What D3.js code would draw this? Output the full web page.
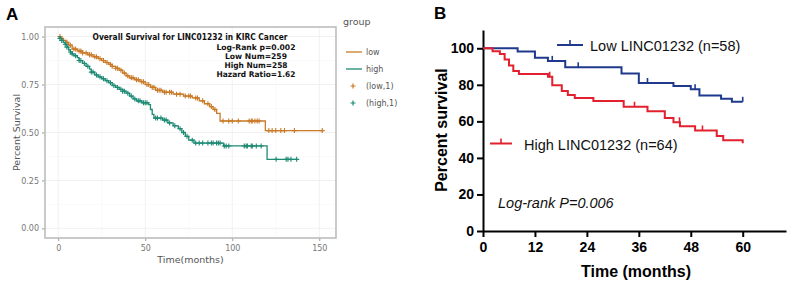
<!DOCTYPE html>
<html>
<head>
<meta charset="utf-8">
<script src="https://cdn.jsdelivr.net/npm/d3@7"></script>
<style>
body { margin: 0; background: #fff; }
svg { display: block; }
</style>
</head>
<body>
<svg id="chart" width="790" height="285"></svg>
<script>
// ---- panel A data (TCGA KIRC) ----
var aLowT = [0, 1.5, 3, 4.5, 6, 8, 11, 14, 17, 20, 23, 25, 27, 29, 31, 33, 35, 37, 39, 41, 44, 47, 50, 53, 56, 60, 66, 72, 77, 81, 84, 87, 89, 91, 93, 119];
var aLowS = [1, 0.99, 0.98, 0.97, 0.955, 0.935, 0.925, 0.915, 0.905, 0.895, 0.885, 0.875, 0.865, 0.855, 0.845, 0.835, 0.825, 0.81, 0.795, 0.785, 0.775, 0.765, 0.75, 0.735, 0.72, 0.71, 0.70, 0.69, 0.68, 0.665, 0.65, 0.635, 0.62, 0.60, 0.56, 0.51];
var aLowEnd = 152;
var aLowCens = [1, 2, 3, 5, 7, 9, 10, 12, 13, 14, 16, 18, 19, 21, 22, 24, 26, 28, 30, 31, 33, 34, 36, 38, 40, 42, 43, 45, 46, 48, 49, 51, 52, 54, 55, 57, 58, 59, 61, 62, 64, 65, 68, 70, 73, 75, 76, 79, 80, 83, 86, 88, 90,
  94.7, 98, 100, 103.5, 109.7, 110.9, 111.5, 113, 114.3, 115.4, 121, 122.9, 125, 127.9, 130, 135.7, 151.7];

var aHighT = [0, 1, 2, 3, 4, 5, 6, 7, 8, 9, 11, 12, 14, 16, 18, 19, 21, 23, 25, 27, 29, 31, 33, 35, 37, 39, 41, 43, 45, 48, 52, 53, 54, 55, 60, 63, 66, 69, 71, 73, 75, 78, 95, 120];
var aHighS = [1, 0.99, 0.98, 0.97, 0.96, 0.945, 0.93, 0.92, 0.91, 0.90, 0.89, 0.875, 0.86, 0.845, 0.83, 0.815, 0.80, 0.79, 0.78, 0.77, 0.76, 0.745, 0.735, 0.725, 0.715, 0.705, 0.69, 0.675, 0.665, 0.655, 0.645, 0.62, 0.595, 0.575, 0.565, 0.55, 0.535, 0.52, 0.50, 0.48, 0.46, 0.445, 0.43, 0.36];
var aHighEnd = 137;
var aHighCens = [1, 2, 4, 5, 7, 8, 10, 12, 13, 15, 17, 19, 20, 22, 24, 26, 28, 30, 32, 34, 36, 37, 38, 40, 42, 44, 46, 47, 49, 50, 51, 56, 57, 59, 61, 62, 64, 67, 70, 72, 74, 77,
  79, 81, 83, 86, 88, 89, 91, 92, 93, 95.4, 96.5, 98, 106.9, 108, 108.7, 110.9, 111.5, 113.8, 116.6, 125.2, 131, 132, 133.7, 137];

var aXTicks = [0, 50, 100, 150];
var aYTicks = [0, 0.25, 0.5, 0.75, 1];
var aTitle = "Overall Survival for LINC01232 in KIRC Cancer";
var aStats = ["Log-Rank p=0.002", "Low Num=259", "High Num=258", "Hazard Ratio=1.62"];
var aLegend = ["low", "high", "(low,1)", "(high,1)"];

// ---- panel B data (own cohort) ----
var bLowT = [0, 8, 12, 15, 19, 32, 36, 44, 48, 50, 55, 57.5];
var bLowS = [100, 98.3, 94.8, 93.1, 89.6, 86.2, 81, 79.3, 77.6, 74.1, 72.4, 70.7];
var bLowEnd = 60;
var bLowCens = [16, 22, 38, 49, 60];

var bHighT = [0, 2.2, 3.9, 5, 6, 7, 8.3, 15, 16, 18.2, 19.6, 21.2, 25.5, 32.5, 38, 42, 44, 45.5, 49, 54, 55.5, 60];
var bHighS = [100, 98.4, 96.9, 93.8, 90.6, 87.5, 85.9, 84.4, 79.7, 76.6, 74.4, 72.8, 71.2, 68, 65.5, 61.8, 59.5, 57.3, 55, 52, 49.7, 48];
var bHighEnd = 60;
var bHighCens = [15.4, 35, 45.4, 50.7];

var bXTicks = [0, 12, 24, 36, 48, 60];
var bYTicks = [0, 20, 40, 60, 80, 100];
var bLegend = ["Low LINC01232 (n=58)", "High LINC01232 (n=64)"];

var colLowA = "#c97a27", colHighA = "#1d8a74";
var colLowB = "#1f3a8c", colHighB = "#e3202d";

var svg = d3.select("#chart");

function stepAt(T, S, t) {
  var i = d3.bisectRight(T, t) - 1;
  return S[Math.max(0, i)];
}
function stepPoints(T, S, end) {
  var pts = T.map(function (t, i) { return [t, S[i]]; });
  pts.push([end, S[S.length - 1]]);
  return pts;
}

// ================= Panel A =================
var A = { l: 45, r: 336, t: 27, b: 238 };
var ax = d3.scaleLinear().domain([-7.6, 159.6]).range([A.l, A.r]);
var ay = d3.scaleLinear().domain([-0.05, 1.05]).range([A.b, A.t]);
var gA = svg.append("g");

// grid
var minorX = [25, 75, 125], minorY = [0.125, 0.375, 0.625, 0.875];
gA.selectAll("line.mnx").data(minorX).enter().append("line")
  .attr("x1", function (d) { return ax(d); }).attr("x2", function (d) { return ax(d); })
  .attr("y1", A.t).attr("y2", A.b).attr("stroke", "#f6f6f6").attr("stroke-width", 0.6);
gA.selectAll("line.mny").data(minorY).enter().append("line")
  .attr("y1", function (d) { return ay(d); }).attr("y2", function (d) { return ay(d); })
  .attr("x1", A.l).attr("x2", A.r).attr("stroke", "#f6f6f6").attr("stroke-width", 0.6);
gA.selectAll("line.gx").data(aXTicks).enter().append("line")
  .attr("x1", function (d) { return ax(d); }).attr("x2", function (d) { return ax(d); })
  .attr("y1", A.t).attr("y2", A.b).attr("stroke", "#eeeeee").attr("stroke-width", 0.8);
gA.selectAll("line.gy").data(aYTicks).enter().append("line")
  .attr("y1", function (d) { return ay(d); }).attr("y2", function (d) { return ay(d); })
  .attr("x1", A.l).attr("x2", A.r).attr("stroke", "#eeeeee").attr("stroke-width", 0.8);

// axes
var axB = gA.append("g").attr("transform", "translate(0," + A.b + ")")
  .call(d3.axisBottom(ax).tickValues(aXTicks).tickSize(3).tickPadding(4));
var axL = gA.append("g").attr("transform", "translate(" + A.l + ",0)")
  .call(d3.axisLeft(ay).tickValues(aYTicks).tickFormat(d3.format(".2f")).tickSize(3).tickPadding(3));
[axB, axL].forEach(function (g) {
  g.select(".domain").remove();
  g.selectAll("line").attr("stroke", "#9a9a9a");
  g.selectAll("text").attr("fill", "#777").style("font-family", "DejaVu Sans, sans-serif").style("font-size", "8px");
});

gA.append("rect").attr("x", A.l).attr("y", A.t).attr("width", A.r - A.l).attr("height", A.b - A.t)
  .attr("fill", "none").attr("stroke", "#bdbdbd").attr("stroke-width", 1.6);

// curves
var lineA = d3.line().x(function (d) { return ax(d[0]); }).y(function (d) { return ay(d[1]); }).curve(d3.curveStepAfter);
function drawA(T, S, end, cens, col) {
  gA.append("path").datum(stepPoints(T, S, end)).attr("d", lineA)
    .attr("fill", "none").attr("stroke", col).attr("stroke-width", 1.3);
  gA.selectAll(null).data(cens).enter().append("path")
    .attr("d", function (t) {
      var x = ax(t), y = ay(stepAt(T, S, t));
      return "M" + (x - 2.5) + "," + y + "H" + (x + 2.5) + "M" + x + "," + (y - 2.5) + "V" + (y + 2.5);
    })
    .attr("stroke", col).attr("stroke-width", 1.1).attr("fill", "none");
}
drawA(aLowT, aLowS, aLowEnd, aLowCens, colLowA);
drawA(aHighT, aHighS, aHighEnd, aHighCens, colHighA);

// annotation
gA.append("text").attr("x", 190).attr("y", 39.5).attr("text-anchor", "middle")
  .attr("textLength", 195).attr("lengthAdjust", "spacingAndGlyphs")
  .style("font-family", "DejaVu Sans, sans-serif").style("font-weight", "bold").style("font-size", "8.5px")
  .attr("fill", "#111").text(aTitle);
var statW = [79, 62, 63, 79];
gA.selectAll("text.stat").data(aStats).enter().append("text")
  .attr("x", 256).attr("y", function (d, i) { return 49.5 + i * 9.3; }).attr("text-anchor", "middle")
  .attr("textLength", function (d, i) { return statW[i]; }).attr("lengthAdjust", "spacingAndGlyphs")
  .style("font-family", "DejaVu Sans, sans-serif").style("font-weight", "bold").style("font-size", "7.8px")
  .attr("fill", "#111").text(function (d) { return d; });

// axis titles
gA.append("text").attr("x", (A.l + A.r) / 2).attr("y", 263).attr("text-anchor", "middle")
  .style("font-family", "DejaVu Sans, sans-serif").style("font-size", "9.5px").attr("fill", "#555").text("Time(months)");
gA.append("text").attr("transform", "translate(20," + ((A.t + A.b) / 2) + ") rotate(-90)").attr("text-anchor", "middle")
  .style("font-family", "DejaVu Sans, sans-serif").style("font-size", "9.5px").attr("fill", "#555").text("Percent Survival");

// legend
var lg = gA.append("g");
lg.append("text").attr("x", 343).attr("y", 24.5).style("font-family", "DejaVu Sans, sans-serif")
  .style("font-size", "9.5px").attr("fill", "#555").text("group");
var legCols = [colLowA, colHighA, colLowA, colHighA];
lg.selectAll("g.it").data(aLegend).enter().append("g")
  .attr("transform", function (d, i) { return "translate(0," + (52 + i * 17) + ")"; })
  .each(function (d, i) {
    var g = d3.select(this);
    if (i < 2) {
      g.append("line").attr("x1", 346).attr("x2", 362).attr("stroke", legCols[i]).attr("stroke-width", 1.3);
    } else {
      g.append("path").attr("d", "M350.5,0H355.5M353,-2.5V2.5").attr("stroke", legCols[i]).attr("stroke-width", 1.2);
    }
    g.append("text").attr("x", 366).attr("y", 3).style("font-family", "DejaVu Sans, sans-serif")
      .style("font-size", "8px").attr("fill", "#555").text(d);
  });

svg.append("text").attr("x", 6).attr("y", 20).style("font-family", "Liberation Sans, Arial, sans-serif")
  .style("font-weight", "bold").style("font-size", "17px").text("A");

// ================= Panel B =================
var B = { l: 483, r: 786, t: 30, b: 231 };
var bx = d3.scaleLinear().domain([0, 70]).range([B.l, B.r]);
var by = d3.scaleLinear().domain([0, 110]).range([B.b, B.t]);
var gB = svg.append("g");

var bxAxis = gB.append("g").attr("transform", "translate(0," + B.b + ")")
  .call(d3.axisBottom(bx).tickValues(bXTicks).tickSize(6).tickSizeOuter(0).tickPadding(5));
var byAxis = gB.append("g").attr("transform", "translate(" + B.l + ",0)")
  .call(d3.axisLeft(by).tickValues(bYTicks).tickSize(6).tickSizeOuter(0).tickPadding(3));
[bxAxis, byAxis].forEach(function (g) {
  g.select(".domain").attr("stroke", "#000").attr("stroke-width", 2);
  g.selectAll(".tick line").attr("stroke", "#000").attr("stroke-width", 2);
  g.selectAll("text").attr("fill", "#000").style("font-family", "Liberation Sans, Arial, sans-serif")
    .style("font-weight", "bold").style("font-size", "14px");
});

var lineB = d3.line().x(function (d) { return bx(d[0]); }).y(function (d) { return by(d[1]); }).curve(d3.curveStepAfter);
function drawB(T, S, end, cens, col) {
  gB.append("path").datum(stepPoints(T, S, end)).attr("d", lineB)
    .attr("fill", "none").attr("stroke", col).attr("stroke-width", 2);
  gB.selectAll(null).data(cens).enter().append("line")
    .attr("x1", function (t) { return bx(t); }).attr("x2", function (t) { return bx(t); })
    .attr("y1", function (t) { return by(stepAt(T, S, t)); })
    .attr("y2", function (t) { return by(stepAt(T, S, t)) - 5; })
    .attr("stroke", col).attr("stroke-width", 1.6);
}
drawB(bLowT, bLowS, bLowEnd, bLowCens, colLowB);
drawB(bHighT, bHighS, bHighEnd, bHighCens, colHighB);

// legend B
var legB = [{ x1: 557, x2: 583, y: 45, tx: 590, col: colLowB }, { x1: 490, x2: 512, y: 143.5, tx: 524, col: colHighB }];
gB.selectAll("g.lb").data(bLegend).enter().append("g").each(function (d, i) {
  var p = legB[i], g = d3.select(this);
  g.append("line").attr("x1", p.x1).attr("x2", p.x2).attr("y1", p.y).attr("y2", p.y).attr("stroke", p.col).attr("stroke-width", 2);
  g.append("line").attr("x1", (p.x1 + p.x2) / 2).attr("x2", (p.x1 + p.x2) / 2).attr("y1", p.y).attr("y2", p.y - 5)
    .attr("stroke", p.col).attr("stroke-width", 1.6);
  g.append("text").attr("x", p.tx).attr("y", p.y + 6).style("font-family", "Liberation Sans, Arial, sans-serif")
    .style("font-size", "14.5px").attr("fill", "#111").text(d);
});

gB.append("text").attr("x", 498).attr("y", 208).style("font-family", "Liberation Sans, Arial, sans-serif")
  .style("font-style", "italic").style("font-size", "14.5px").attr("fill", "#111").text("Log-rank P=0.006");

gB.append("text").attr("x", 636).attr("y", 277).attr("text-anchor", "middle")
  .style("font-family", "Liberation Sans, Arial, sans-serif").style("font-weight", "bold").style("font-size", "16px")
  .text("Time (months)");
gB.append("text").attr("transform", "translate(447,130) rotate(-90)").attr("text-anchor", "middle")
  .style("font-family", "Liberation Sans, Arial, sans-serif").style("font-weight", "bold").style("font-size", "16px")
  .text("Percent survival");

svg.append("text").attr("x", 434).attr("y", 19).style("font-family", "Liberation Sans, Arial, sans-serif")
  .style("font-weight", "bold").style("font-size", "17px").text("B");
</script>
</body>
</html>
